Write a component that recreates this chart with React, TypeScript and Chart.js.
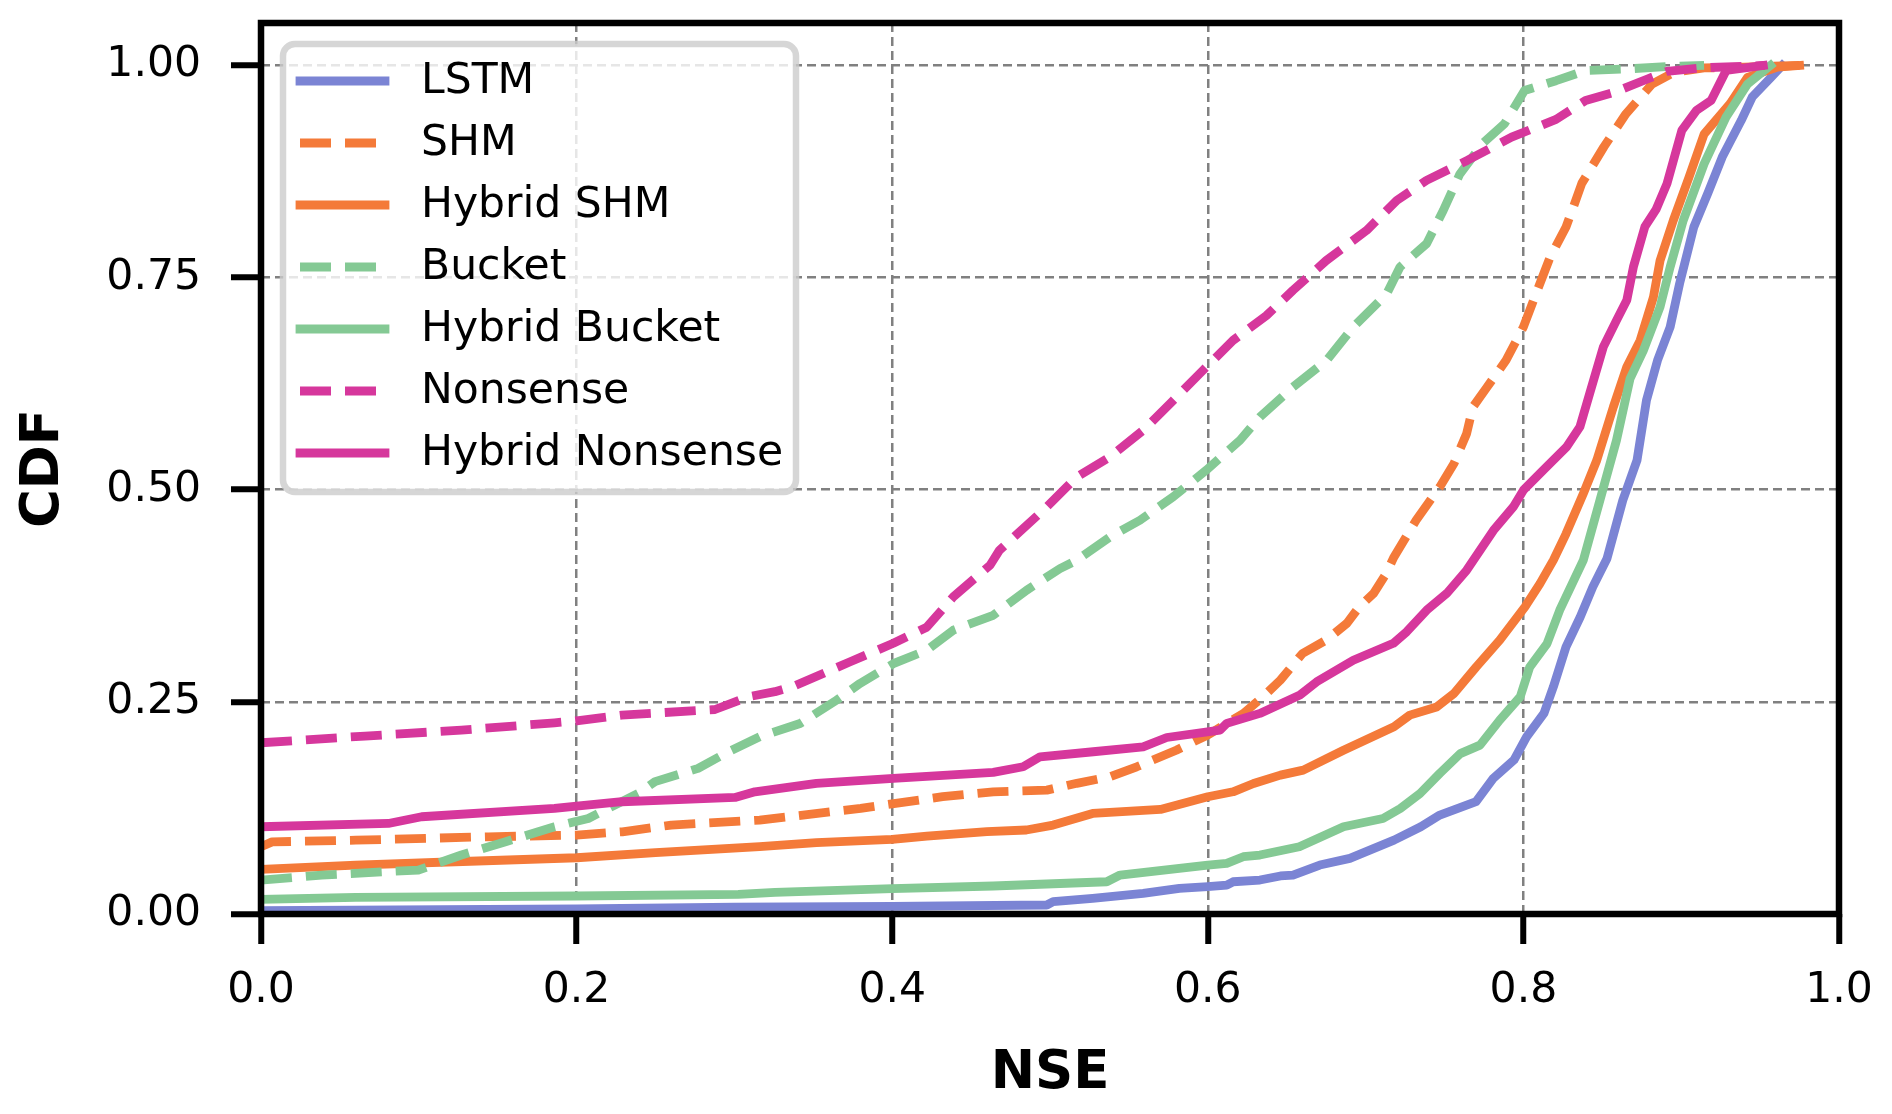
import React, { useEffect, useRef } from "react";
import { Chart, registerables } from "chart.js";

Chart.register(...registerables);

const SERIES_NAMES = ["LSTM", "SHM", "Hybrid SHM", "Bucket", "Hybrid Bucket", "Nonsense", "Hybrid Nonsense"];
const SERIES_COLORS = ["#7b84d4", "#f47a39", "#f47a39", "#84c994", "#84c994", "#d6379c", "#d6379c"];
const SERIES_DASHED = [false, true, false, true, false, true, false];

const X_TICKS = [0, 0.2, 0.4, 0.6, 0.8, 1.0];
const Y_TICKS = [0, 0.25, 0.5, 0.75, 1.0];

const LSTM_X = [0, 0.2, 0.3, 0.4, 0.498, 0.502, 0.527, 0.559, 0.582, 0.6, 0.612, 0.616, 0.633, 0.646, 0.654, 0.671, 0.69, 0.718, 0.735, 0.747, 0.77, 0.781, 0.794, 0.802, 0.813, 0.819, 0.827, 0.836, 0.844, 0.853, 0.863, 0.872, 0.878, 0.885, 0.893, 0.899, 0.908, 0.917, 0.926, 0.938, 0.945, 0.957, 0.964];
const LSTM_Y = [0.004, 0.006, 0.008, 0.009, 0.0106, 0.0145, 0.0184, 0.0243, 0.0302, 0.0322, 0.034, 0.038, 0.04, 0.0448, 0.0459, 0.0577, 0.0656, 0.087, 0.1028, 0.1166, 0.1323, 0.16, 0.1814, 0.2088, 0.2364, 0.2677, 0.3148, 0.35, 0.3855, 0.419, 0.4876, 0.5347, 0.6054, 0.6525, 0.6918, 0.743, 0.8096, 0.85, 0.892, 0.935, 0.9627, 0.986, 1.0];

const SHM_X = [0, 0.007, 0.06, 0.144, 0.2, 0.229, 0.26, 0.316, 0.38, 0.401, 0.432, 0.464, 0.498, 0.517, 0.538, 0.555, 0.58, 0.6, 0.6225, 0.635, 0.646, 0.66, 0.675, 0.688, 0.696, 0.705, 0.713, 0.718, 0.732, 0.747, 0.756, 0.764, 0.768, 0.777, 0.789, 0.8, 0.808, 0.817, 0.827, 0.832, 0.837, 0.851, 0.865, 0.8815, 0.8955, 0.9145, 0.94, 0.975];
const SHM_Y = [0.0793, 0.085, 0.087, 0.091, 0.093, 0.0969, 0.1048, 0.1107, 0.1244, 0.13, 0.1382, 0.144, 0.146, 0.154, 0.1617, 0.1735, 0.193, 0.211, 0.2363, 0.256, 0.2756, 0.307, 0.3227, 0.3423, 0.362, 0.3776, 0.401, 0.4208, 0.464, 0.5033, 0.5308, 0.566, 0.5975, 0.621, 0.6525, 0.6917, 0.731, 0.7743, 0.8096, 0.835, 0.861, 0.904, 0.943, 0.978, 0.992, 0.997, 0.998, 1.0];

const HSHM_X = [0, 0.06, 0.123, 0.2, 0.25, 0.316, 0.352, 0.4, 0.422, 0.46, 0.485, 0.502, 0.527, 0.57, 0.6, 0.616, 0.629, 0.646, 0.6605, 0.686, 0.718, 0.728, 0.745, 0.756, 0.77, 0.785, 0.801, 0.8105, 0.819, 0.827, 0.838, 0.8465, 0.857, 0.8655, 0.874, 0.8824, 0.8866, 0.895, 0.905, 0.9145, 0.931, 0.942, 0.961, 0.975];
const HSHM_Y = [0.0526, 0.0577, 0.0616, 0.0663, 0.0722, 0.0793, 0.084, 0.0879, 0.0918, 0.097, 0.099, 0.1048, 0.1185, 0.1232, 0.1382, 0.144, 0.1538, 0.1637, 0.1696, 0.193, 0.2206, 0.2344, 0.244, 0.2598, 0.291, 0.3227, 0.362, 0.3894, 0.417, 0.448, 0.4956, 0.5347, 0.5975, 0.6446, 0.676, 0.727, 0.77, 0.8174, 0.8685, 0.919, 0.955, 0.986, 0.998, 1.0];

const BUCKET_X = [0, 0.0385, 0.0997, 0.127, 0.155, 0.186, 0.2074, 0.239, 0.2497, 0.277, 0.296, 0.316, 0.3416, 0.3648, 0.3796, 0.4007, 0.422, 0.4387, 0.464, 0.4852, 0.5063, 0.517, 0.538, 0.557, 0.578, 0.599, 0.6204, 0.633, 0.654, 0.6753, 0.6922, 0.7134, 0.7218, 0.7387, 0.7492, 0.7597, 0.774, 0.788, 0.8007, 0.8207, 0.8394, 0.8675, 0.891, 0.9145];
const BUCKET_Y = [0.04, 0.0459, 0.0518, 0.0695, 0.0852, 0.1028, 0.1126, 0.142, 0.156, 0.1716, 0.191, 0.2088, 0.2245, 0.252, 0.2717, 0.295, 0.311, 0.3345, 0.352, 0.3816, 0.407, 0.417, 0.4443, 0.464, 0.4915, 0.523, 0.5583, 0.5857, 0.621, 0.6525, 0.6917, 0.731, 0.7625, 0.79, 0.829, 0.872, 0.9077, 0.9313, 0.9705, 0.982, 0.994, 0.996, 0.9988, 1.0];

const HBUCKET_X = [0, 0.06, 0.2, 0.3025, 0.3257, 0.4, 0.464, 0.536, 0.5444, 0.6, 0.612, 0.6225, 0.633, 0.658, 0.686, 0.711, 0.722, 0.7345, 0.747, 0.76, 0.7725, 0.785, 0.798, 0.804, 0.815, 0.823, 0.832, 0.838, 0.8485, 0.859, 0.8676, 0.876, 0.8866, 0.893, 0.9013, 0.9145, 0.9284, 0.942, 0.9566];
const HBUCKET_Y = [0.0173, 0.0196, 0.0212, 0.0231, 0.0255, 0.03, 0.033, 0.038, 0.0459, 0.0577, 0.0596, 0.0675, 0.0695, 0.0793, 0.1028, 0.1126, 0.1244, 0.142, 0.1657, 0.189, 0.199, 0.2285, 0.256, 0.291, 0.3187, 0.358, 0.3934, 0.417, 0.4876, 0.5583, 0.631, 0.664, 0.7153, 0.7625, 0.8174, 0.884, 0.939, 0.978, 1.0];

const NONSENSE_X = [0, 0.066, 0.127, 0.186, 0.2, 0.2286, 0.2877, 0.3088, 0.3257, 0.337, 0.373, 0.4007, 0.4219, 0.4387, 0.462, 0.468, 0.4957, 0.517, 0.538, 0.559, 0.578, 0.597, 0.616, 0.637, 0.654, 0.675, 0.7007, 0.7198, 0.7386, 0.7644, 0.7925, 0.8207, 0.8394, 0.858, 0.879, 0.891, 0.9146, 0.953];
const NONSENSE_Y = [0.2018, 0.2097, 0.2167, 0.2253, 0.2277, 0.2344, 0.241, 0.256, 0.262, 0.268, 0.297, 0.319, 0.338, 0.3737, 0.411, 0.4287, 0.4758, 0.515, 0.5387, 0.57, 0.605, 0.6408, 0.676, 0.705, 0.735, 0.77, 0.8057, 0.841, 0.8645, 0.888, 0.9155, 0.9364, 0.9587, 0.9686, 0.9843, 0.993, 0.9973, 1.0];

const HNONSENSE_X = [0, 0.0807, 0.1018, 0.186, 0.2, 0.2286, 0.3004, 0.313, 0.352, 0.4007, 0.464, 0.483, 0.4937, 0.5274, 0.559, 0.574, 0.6077, 0.612, 0.633, 0.6584, 0.669, 0.6922, 0.7176, 0.726, 0.7387, 0.7514, 0.764, 0.781, 0.7936, 0.8, 0.8126, 0.8274, 0.8358, 0.842, 0.8506, 0.859, 0.8655, 0.8697, 0.877, 0.884, 0.891, 0.9004, 0.9097, 0.919, 0.9285, 0.952];
const HNONSENSE_Y = [0.1028, 0.1067, 0.1146, 0.1245, 0.1272, 0.1323, 0.1374, 0.144, 0.154, 0.1598, 0.1669, 0.1735, 0.1853, 0.1912, 0.197, 0.208, 0.2167, 0.2246, 0.2364, 0.258, 0.2736, 0.299, 0.319, 0.3325, 0.358, 0.3777, 0.405, 0.452, 0.4797, 0.4994, 0.523, 0.5504, 0.574, 0.6133, 0.668, 0.6996, 0.7232, 0.7624, 0.81, 0.83, 0.8607, 0.9234, 0.947, 0.9588, 0.9941, 1.0];

const SERIES_X = [LSTM_X, SHM_X, HSHM_X, BUCKET_X, HBUCKET_X, NONSENSE_X, HNONSENSE_X];
const SERIES_Y = [LSTM_Y, SHM_Y, HSHM_Y, BUCKET_Y, HBUCKET_Y, NONSENSE_Y, HNONSENSE_Y];

const FONT = "DejaVu Sans";
const TEXT_SIZE = 42.5;
const LINE_W = 8.8;
const DASH = [31, 14];

const framePlugin = {
  id: "frameAndLegend",
  afterDatasetsDraw(chart: any) {
    const { ctx, chartArea: a } = chart;
    ctx.save();
    // spines
    ctx.strokeStyle = "#000";
    ctx.lineWidth = 6.5;
    ctx.lineJoin = "miter";
    ctx.strokeRect(a.left, a.top, a.right - a.left, a.bottom - a.top);

    // legend box
    const bx = a.left + 22;
    const by = a.top + 21;
    const bw = 513;
    const bh = 448;
    ctx.beginPath();
    (ctx as any).roundRect(bx, by, bw, bh, 12);
    ctx.fillStyle = "rgba(255,255,255,0.8)";
    ctx.fill();
    ctx.lineWidth = 6.5;
    ctx.strokeStyle = "rgba(204,204,204,0.8)";
    ctx.stroke();

    ctx.font = `${TEXT_SIZE}px "${FONT}"`;
    ctx.textBaseline = "middle";
    ctx.textAlign = "left";
    for (let i = 0; i < SERIES_NAMES.length; i++) {
      const y = a.top + 58 + i * 62;
      ctx.beginPath();
      ctx.lineWidth = LINE_W;
      ctx.strokeStyle = SERIES_COLORS[i];
      if (SERIES_DASHED[i]) {
        ctx.setLineDash(DASH);
        ctx.lineCap = "butt";
      } else {
        ctx.setLineDash([]);
        ctx.lineCap = "square";
      }
      ctx.moveTo(a.left + 39, y);
      ctx.lineTo(a.left + 124, y);
      ctx.stroke();
      ctx.setLineDash([]);
      ctx.fillStyle = "#000";
      ctx.fillText(SERIES_NAMES[i], a.left + 160, y + 1);
    }
    ctx.restore();
  },
};

export default function App() {
  const ref = useRef<HTMLCanvasElement | null>(null);

  useEffect(() => {
    if (!ref.current) return;
    Chart.defaults.font.family = FONT;
    const datasets = SERIES_NAMES.map((name, i) => ({
      label: name,
      data: SERIES_X[i].map((x, j) => ({ x, y: SERIES_Y[i][j] })),
      borderColor: SERIES_COLORS[i],
      backgroundColor: SERIES_COLORS[i],
      borderWidth: LINE_W,
      borderDash: SERIES_DASHED[i] ? DASH : [],
      borderCapStyle: SERIES_DASHED[i] ? "butt" : "square",
      borderJoinStyle: "round",
      pointRadius: 0,
      pointHoverRadius: 0,
      fill: false,
      tension: 0,
      clip: 0,
      order: SERIES_NAMES.length - i,
    }));

    const chart = new Chart(ref.current, {
      type: "line",
      data: { datasets } as any,
      plugins: [framePlugin],
      options: {
        animation: false,
        responsive: true,
        maintainAspectRatio: false,
        events: [],
        layout: { padding: { left: 0, top: 23, right: 53, bottom: 0 } },
        plugins: { legend: { display: false }, tooltip: { enabled: false } },
        scales: {
          x: {
            type: "linear",
            min: 0,
            max: 1,
            afterFit: (s: any) => {
              s.height = 200;
              s.paddingLeft = 0;
              s.paddingRight = 0;
            },
            afterBuildTicks: (s: any) => {
              s.ticks = X_TICKS.map((v) => ({ value: v }));
            },
            ticks: {
              callback: (v: any) => Number(v).toFixed(1),
              font: { family: FONT, size: TEXT_SIZE },
              color: "#000",
              padding: 21,
              maxRotation: 0,
              autoSkip: false,
            },
            grid: {
              color: "#808080",
              lineWidth: 2.5,
              tickColor: "#000",
              tickWidth: 6,
              tickLength: 30,
              tickBorderDash: [],
            },
            border: { display: false, dash: [9, 5] },
            title: {
              display: true,
              text: "NSE",
              color: "#000",
              font: { family: FONT, size: 53, weight: "bold" },
              padding: { top: 0, bottom: 8 },
            },
          },
          y: {
            type: "linear",
            min: 0,
            max: 1.05,
            afterFit: (s: any) => {
              s.width = 261;
              s.paddingTop = 0;
              s.paddingBottom = 0;
            },
            afterBuildTicks: (s: any) => {
              s.ticks = Y_TICKS.map((v) => ({ value: v }));
            },
            ticks: {
              callback: (v: any) => Number(v).toFixed(2),
              font: { family: FONT, size: TEXT_SIZE },
              color: "#000",
              padding: 30,
              autoSkip: false,
            },
            grid: {
              color: "#808080",
              lineWidth: 2.5,
              tickColor: "#000",
              tickWidth: 6,
              tickLength: 30,
              tickBorderDash: [],
            },
            border: { display: false, dash: [9, 5] },
            title: {
              display: true,
              text: "CDF",
              color: "#000",
              font: { family: FONT, size: 53, weight: "bold" },
              padding: { top: 12, bottom: 0 },
            },
          },
        },
      } as any,
    });
    return () => chart.destroy();
  }, []);

  return (
    <div style={{ position: "absolute", left: 0, top: 0, width: 1892, height: 1114, background: "#fff" }}>
      <canvas ref={ref} />
    </div>
  );
}
